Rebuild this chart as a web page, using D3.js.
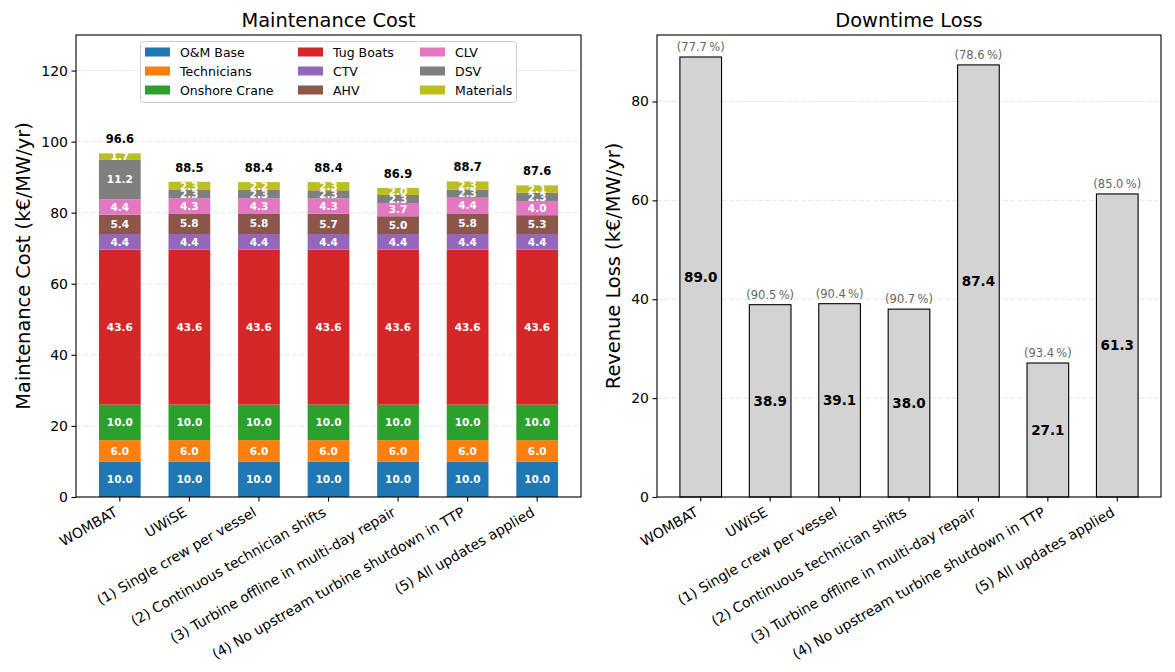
<!DOCTYPE html>
<html>
<head>
<meta charset="utf-8">
<script src="https://cdn.jsdelivr.net/npm/d3@7"></script>
<style>
  body { margin: 0; background: #fff; }
  text { font-family: "DejaVu Sans", sans-serif; }
</style>
</head>
<body>
<svg id="chart"></svg>
<script>
// scenarios (x categories)
const scenarios = [
  "WOMBAT",
  "UWiSE",
  "(1) Single crew per vessel",
  "(2) Continuous technician shifts",
  "(3) Turbine offline in multi-day repair",
  "(4) No upstream turbine shutdown in TTP",
  "(5) All updates applied",
];

// cost components, bottom to top
const components = ["O&M Base", "Technicians", "Onshore Crane", "Tug Boats", "CTV", "AHV", "CLV", "DSV", "Materials"];
const componentColors = ["#1f77b4", "#ff7f0e", "#2ca02c", "#d62728", "#9467bd", "#8c564b", "#e377c2", "#7f7f7f", "#bcbd22"];

// k€/MW/yr, one array per component, one value per scenario
const omBase = [10.0, 10.0, 10.0, 10.0, 10.0, 10.0, 10.0];
const technicians = [6.0, 6.0, 6.0, 6.0, 6.0, 6.0, 6.0];
const onshoreCrane = [10.0, 10.0, 10.0, 10.0, 10.0, 10.0, 10.0];
const tugBoats = [43.6, 43.6, 43.6, 43.6, 43.6, 43.6, 43.6];
const ctv = [4.4, 4.4, 4.4, 4.4, 4.4, 4.4, 4.4];
const ahv = [5.4, 5.8, 5.8, 5.7, 5.0, 5.8, 5.3];
const clv = [4.4, 4.3, 4.3, 4.3, 3.7, 4.4, 4.0];
const dsv = [11.2, 2.3, 2.3, 2.3, 2.3, 2.3, 2.3];
const materials = [1.7, 2.3, 2.2, 2.3, 2.0, 2.3, 2.1];
const costTotals = [96.6, 88.5, 88.4, 88.4, 86.9, 88.7, 87.6];

// downtime loss
const revenueLoss = [89.0, 38.9, 39.1, 38.0, 87.4, 27.1, 61.3];
const availability = [77.7, 90.5, 90.4, 90.7, 78.6, 93.4, 85.0];

const costTicks = [0, 20, 40, 60, 80, 100, 120];
const lossTicks = [0, 20, 40, 60, 80];

const width = 1175, height = 672;
const plotTop = 35, plotBottom = 497;
const left1 = 76, right1 = 581;
const left2 = 657, right2 = 1161;

const svg = d3.select("#chart").attr("width", width).attr("height", height);

// build stacked table
const seriesValues = [omBase, technicians, onshoreCrane, tugBoats, ctv, ahv, clv, dsv, materials];
const table = scenarios.map(function (s, i) {
  let row = { scenario: s };
  components.forEach(function (c, j) { row[c] = seriesValues[j][i]; });
  return row;
});
const stacked = d3.stack().keys(components)(table);

function xBand(x0, x1) {
  return d3.scaleBand().domain(scenarios).range([x0, x1]).paddingInner(0.4).paddingOuter(0.33);
}

function drawGrid(g, yScale, ticks, x0, x1) {
  g.selectAll(".grid")
    .data(ticks)
    .enter()
    .append("line")
    .attr("class", "grid")
    .attr("x1", x0)
    .attr("x2", x1)
    .attr("y1", (d) => yScale(d))
    .attr("y2", (d) => yScale(d))
    .attr("stroke", "#b0b0b0")
    .attr("stroke-opacity", 0.3)
    .attr("stroke-width", 1)
    .attr("stroke-dasharray", "5,2.2");
}

function drawAxes(xScale, yScale, ticks, x0, x1, title, ylabel, ylabelX) {
  let xAxis = svg.append("g")
    .attr("transform", `translate(0, ${plotBottom})`)
    .call(d3.axisBottom(xScale).tickSize(4.5).tickSizeOuter(0));
  xAxis.select(".domain").remove();
  xAxis.selectAll("line").attr("stroke", "#000").attr("stroke-width", 1.1);
  xAxis.selectAll("text")
    .attr("x", 0)
    .attr("y", 0)
    .attr("dy", 0)
    .attr("transform", "translate(-1.5, 18) rotate(-30)")
    .attr("text-anchor", "end")
    .attr("font-size", "14px")
    .attr("font-family", "DejaVu Sans")
    .attr("fill", "#000");

  let yAxis = svg.append("g")
    .attr("transform", `translate(${x0}, 0)`)
    .call(d3.axisLeft(yScale).tickValues(ticks).tickSize(4.5).tickPadding(3.5).tickFormat(d3.format("d")));
  yAxis.select(".domain").remove();
  yAxis.selectAll("line").attr("stroke", "#000").attr("stroke-width", 1.1);
  yAxis.selectAll("text")
    .attr("font-size", "14px")
    .attr("font-family", "DejaVu Sans")
    .attr("fill", "#000");

  svg.append("rect")
    .attr("x", x0)
    .attr("y", plotTop)
    .attr("width", x1 - x0)
    .attr("height", plotBottom - plotTop)
    .attr("fill", "none")
    .attr("stroke", "#000")
    .attr("stroke-width", 1.1);

  svg.append("text")
    .attr("x", (x0 + x1) / 2)
    .attr("y", 27)
    .attr("text-anchor", "middle")
    .attr("font-size", "19.4px")
    .text(title);

  svg.append("text")
    .attr("transform", `translate(${ylabelX}, ${(plotTop + plotBottom) / 2}) rotate(-90)`)
    .attr("text-anchor", "middle")
    .attr("font-size", "19.4px")
    .text(ylabel);
}

// ---------- left: maintenance cost ----------
const x1Scale = xBand(left1, right1);
const y1Scale = d3.scaleLinear().domain([0, 130]).range([plotBottom, plotTop]);

const g1 = svg.append("g");
drawGrid(g1, y1Scale, costTicks, left1, right1);

const layers = g1.selectAll(".layer")
  .data(stacked)
  .enter()
  .append("g")
  .attr("class", "layer")
  .attr("fill", (d, i) => componentColors[i]);

layers.selectAll("rect")
  .data((d) => d)
  .enter()
  .append("rect")
  .attr("x", (d) => x1Scale(d.data.scenario))
  .attr("y", (d) => y1Scale(d[1]))
  .attr("width", x1Scale.bandwidth())
  .attr("height", (d) => y1Scale(d[0]) - y1Scale(d[1]));

// labels after all segments so none gets covered
const segLabels = g1.append("g");
stacked.forEach(function (layer) {
  segLabels.selectAll(null)
    .data(layer)
    .enter()
    .append("text")
    .attr("x", (d) => x1Scale(d.data.scenario) + x1Scale.bandwidth() / 2)
    .attr("y", (d) => y1Scale((d[0] + d[1]) / 2))
    .attr("dy", "0.36em")
    .attr("text-anchor", "middle")
    .attr("font-size", "10.5px")
    .attr("font-weight", "bold")
    .attr("fill", "white")
    .text((d) => (d[1] - d[0]).toFixed(1));
});

g1.selectAll(".total-label")
  .data(scenarios)
  .enter()
  .append("text")
  .attr("class", "total-label")
  .attr("x", (d) => x1Scale(d) + x1Scale.bandwidth() / 2)
  .attr("y", (d, i) => y1Scale(stacked[stacked.length - 1][i][1]) - 10)
  .attr("text-anchor", "middle")
  .attr("font-size", "11.5px")
  .attr("font-weight", "bold")
  .attr("fill", "#000")
  .text((d, i) => costTotals[i].toFixed(1));

drawAxes(x1Scale, y1Scale, costTicks, left1, right1, "Maintenance Cost", "Maintenance Cost (k€/MW/yr)", 30);

// legend
const legend = svg.append("g");
legend.append("rect")
  .attr("x", 140.5)
  .attr("y", 41.5)
  .attr("width", 376)
  .attr("height", 61)
  .attr("rx", 3)
  .attr("fill", "white")
  .attr("fill-opacity", 0.8)
  .attr("stroke", "#cccccc")
  .attr("stroke-width", 1);

const colX = [145, 298, 420];
const rowY = [52, 71, 90];
const items = legend.selectAll(".item")
  .data(components)
  .enter()
  .append("g")
  .attr("class", "item")
  .attr("transform", (d, i) => `translate(${colX[Math.floor(i / 3)]}, ${rowY[i % 3]})`);
items.append("rect")
  .attr("x", 0)
  .attr("y", -4.5)
  .attr("width", 25)
  .attr("height", 9)
  .attr("fill", (d, i) => componentColors[i]);
items.append("text")
  .attr("x", 35)
  .attr("y", 0)
  .attr("dy", "0.36em")
  .attr("font-size", "12.5px")
  .attr("fill", "#000")
  .text((d) => d);

// ---------- right: downtime loss ----------
const x2Scale = xBand(left2, right2);
const y2Scale = d3.scaleLinear().domain([0, d3.max(revenueLoss) * 1.05]).range([plotBottom, plotTop]);

const g2 = svg.append("g");
drawGrid(g2, y2Scale, lossTicks, left2, right2);

g2.selectAll(".loss-bar")
  .data(revenueLoss)
  .enter()
  .append("rect")
  .attr("class", "loss-bar")
  .attr("x", (d, i) => x2Scale(scenarios[i]))
  .attr("y", (d) => y2Scale(d))
  .attr("width", x2Scale.bandwidth())
  .attr("height", (d) => y2Scale(0) - y2Scale(d))
  .attr("fill", "#d3d3d3")
  .attr("stroke", "#000")
  .attr("stroke-width", 1.1);

g2.selectAll(".loss-label")
  .data(revenueLoss)
  .enter()
  .append("text")
  .attr("class", "loss-label")
  .attr("x", (d, i) => x2Scale(scenarios[i]) + x2Scale.bandwidth() / 2)
  .attr("y", (d) => y2Scale(d / 2))
  .attr("dy", "0.36em")
  .attr("text-anchor", "middle")
  .attr("font-size", "13.5px")
  .attr("font-weight", "bold")
  .attr("fill", "#000")
  .text((d) => d.toFixed(1));

g2.selectAll(".avail-label")
  .data(availability)
  .enter()
  .append("text")
  .attr("class", "avail-label")
  .attr("x", (d, i) => x2Scale(scenarios[i]) + x2Scale.bandwidth() / 2)
  .attr("y", (d, i) => y2Scale(revenueLoss[i]) - 6)
  .attr("text-anchor", "middle")
  .attr("font-size", "11.5px")
  .attr("fill", "#666666")
  .text((d) => `(${d.toFixed(1)}\u2009%)`);

drawAxes(x2Scale, y2Scale, lossTicks, left2, right2, "Downtime Loss", "Revenue Loss (k€/MW/yr)", 620);
</script>
</body>
</html>
